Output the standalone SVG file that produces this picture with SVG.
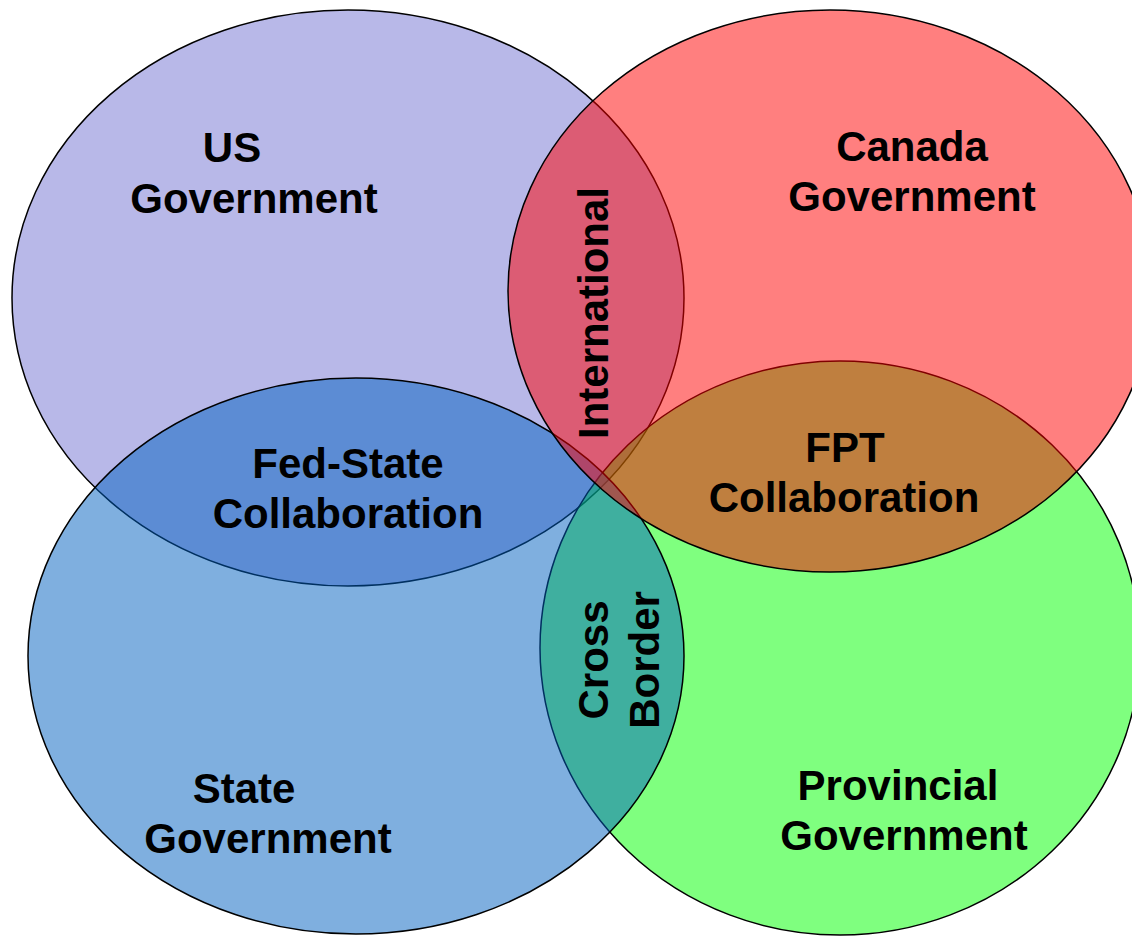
<svg xmlns="http://www.w3.org/2000/svg" width="1132" height="938" viewBox="0 0 1132 938">
<style>
.c{stroke:#000;stroke-width:1.5}
.t{font-family:"Liberation Sans",Arial,sans-serif;font-weight:bold;font-size:42px;fill:#000;text-anchor:middle}
</style>
<rect width="1132" height="938" fill="#fff"/>
<g id="sets">
<g id="us-government"><ellipse class="c" cx="348" cy="298" rx="336" ry="288" fill="#b8b8e8"/></g>
<g id="provincial-government"><ellipse class="c" cx="840" cy="648" rx="300" ry="287" fill="#00ff00" fill-opacity="0.5"/></g>
<g id="state-government"><ellipse class="c" cx="356" cy="656" rx="328" ry="278" fill="#0060c0" fill-opacity="0.5"/></g>
<g id="canada-government"><ellipse class="c" cx="830" cy="291" rx="322" ry="281" fill="#ff0000" fill-opacity="0.5"/></g>
</g>
<g id="labels">
<g id="label-us"><text class="t" x="232" y="162">US</text><text class="t" x="254" y="213">Government</text></g>
<g id="label-canada"><text class="t" x="912" y="161">Canada</text><text class="t" x="912" y="211">Government</text></g>
<g id="label-state"><text class="t" x="244" y="803">State</text><text class="t" x="268" y="853">Government</text></g>
<g id="label-provincial"><text class="t" x="898" y="800">Provincial</text><text class="t" x="904" y="850">Government</text></g>
<g id="label-fed-state"><text class="t" x="348" y="478">Fed-State</text><text class="t" x="348" y="528">Collaboration</text></g>
<g id="label-fpt"><text class="t" x="845" y="462">FPT</text><text class="t" x="844" y="512">Collaboration</text></g>
<g id="label-international"><text class="t" transform="translate(608,313) rotate(-90)">International</text></g>
<g id="label-cross-border"><text class="t" transform="translate(608,660) rotate(-90)">Cross</text><text class="t" transform="translate(659,660) rotate(-90)">Border</text></g>
</g>
</svg>
